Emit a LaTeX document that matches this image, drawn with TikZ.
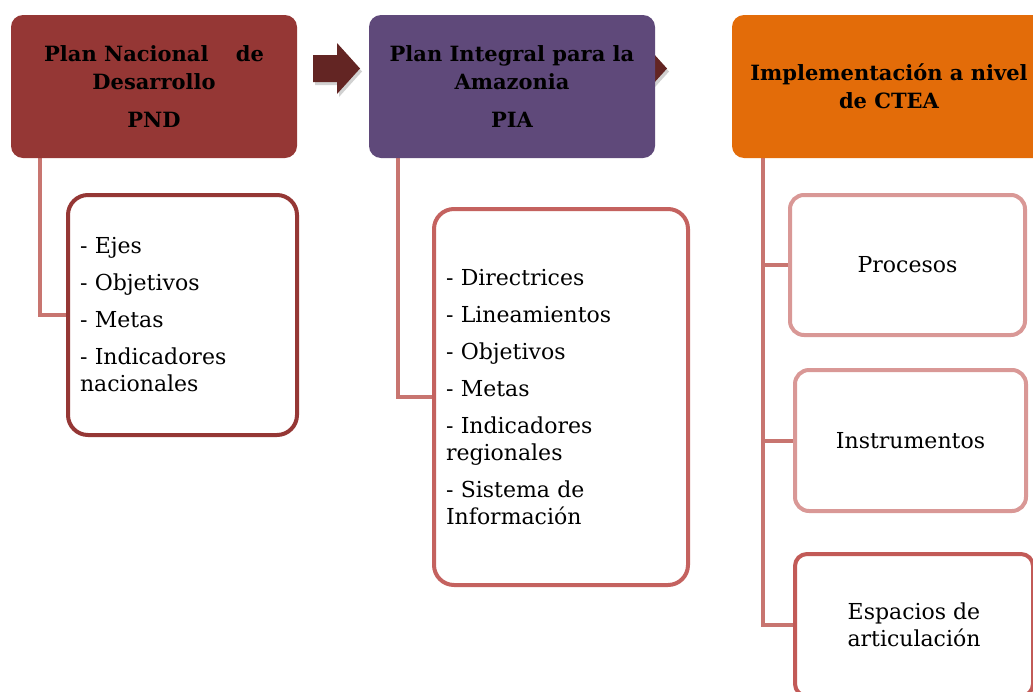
\documentclass[tikz,border=0pt]{standalone}
\usepackage{fontspec}
\setmainfont{DejaVu Serif}
\pgfdeclarelayer{bg}
\pgfsetlayers{bg,main}
\definecolor{pndc}{RGB}{149,55,53}
\definecolor{piac}{RGB}{95,73,122}
\definecolor{cteac}{RGB}{227,108,9}
\definecolor{arrowc}{RGB}{99,37,35}
\definecolor{linkc}{RGB}{200,117,112}
\definecolor{piab}{RGB}{196,98,95}
\definecolor{lightb}{RGB}{217,152,150}
\definecolor{espb}{RGB}{194,90,87}
\begin{document}
\begin{tikzpicture}[x=1pt,y=-1pt,
  head/.style={rectangle, rounded corners=12pt, inner sep=0pt, outer sep=0pt,
    minimum height=143pt, align=center, text=black,
    font=\bfseries\fontsize{21}{28}\selectfont},
  listbox/.style={rectangle, draw, line width=4pt, rounded corners=20pt, fill=white,
    inner xsep=12pt, inner ysep=0pt, outer sep=0pt, align=left,
    font=\fontsize{22}{27}\selectfont},
  itembox/.style={rectangle, draw=lightb, line width=4pt, rounded corners=14pt, fill=white,
    inner sep=0pt, outer sep=0pt, align=center, minimum height=141pt,
    font=\fontsize{22}{27}\selectfont},
  link/.style={draw=linkc, line width=4pt},
  bigarrow/.style={fill=arrowc},
  ashadow/.style={fill=black, opacity=0.18}
]
\useasboundingbox (0,0) rectangle (1033,691);
\clip (0,0) rectangle (1033,691);

% header boxes
\node[head, fill=pndc, minimum width=286pt] (pnd) at (154,86.5)
  {Plan Nacional\hspace{1.3em}de\\Desarrollo\\[10pt]PND};
\node[head, fill=piac, minimum width=286pt] (pia) at (512,86.5)
  {Plan Integral para la\\Amazonia\\[10pt]PIA};
\node[head, fill=cteac, minimum width=314pt] (ctea) at (889,86.5)
  {Implementación a nivel\\de CTEA};

% child boxes
\node[listbox, draw=pndc, minimum width=229pt, minimum height=240pt, text width=205pt] (pndl) at (182.5,315)
  {- Ejes\\[10pt]- Objetivos\\[10pt]- Metas\\[10pt]- Indicadores\\nacionales};
\node[listbox, draw=piab, minimum width=254pt, minimum height=376pt, text width=230pt] (pial) at (561,397)
  {- Directrices\\[10pt]- Lineamientos\\[10pt]- Objetivos\\[10pt]- Metas\\[10pt]- Indicadores\\regionales\\[10pt]- Sistema de\\Información};

\node[itembox, minimum width=235pt, minimum height=140pt] (proc) at (907.5,265) {Procesos};
\node[itembox, minimum width=231pt] (inst) at (910.5,440.5) {Instrumentos};
\node[itembox, draw=espb, rounded corners=12pt, minimum width=238pt, minimum height=142pt] (esp) at (914,625) {Espacios de\\articulación};

\coordinate (ctrunk) at ([xshift=31pt]ctea.south west);

\begin{pgfonlayer}{bg}
  % arrows between the header boxes (with soft shadow)
  \fill[ashadow] (315,58) -- (339,58) -- (339,46) -- (362,71.5) -- (339,97) -- (339,85) -- (315,85) -- cycle;
  \fill[bigarrow] (313,55) -- (337,55) -- (337,43) -- (360,68.5) -- (337,94) -- (337,82) -- (313,82) -- cycle;
  \fill[ashadow] (622,58) -- (646,58) -- (646,46) -- (669,71.5) -- (646,97) -- (646,85) -- (622,85) -- cycle;
  \fill[bigarrow] (620,55) -- (644,55) -- (644,43) -- (667,68.5) -- (644,94) -- (644,82) -- (620,82) -- cycle;
  % connectors
  \draw[link] ([xshift=29pt]pnd.south west) |- (pndl.west);
  \draw[link] ([xshift=29pt]pia.south west) |- (pial.west);
  \draw[link] (ctrunk) |- (esp.west);
  \draw[link] (proc.west) -- (proc.west -| ctrunk);
  \draw[link] (inst.west) -- (inst.west -| ctrunk);
\end{pgfonlayer}
\end{tikzpicture}
\end{document}
